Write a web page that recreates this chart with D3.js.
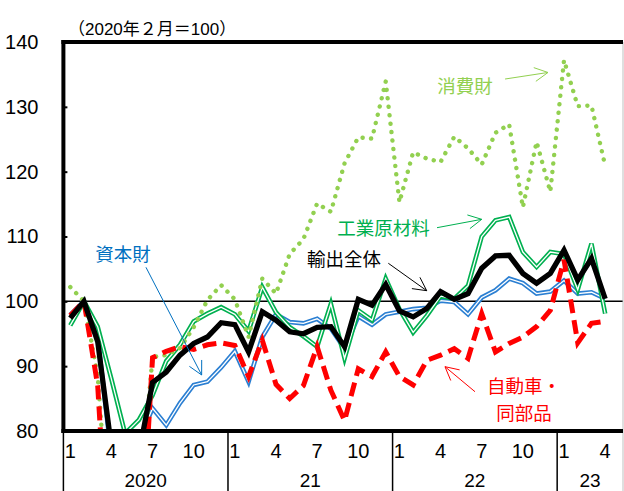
<!DOCTYPE html>
<html>
<head>
<meta charset="utf-8">
<script src="https://cdn.jsdelivr.net/npm/d3@7"></script>
<style>
  html, body { margin: 0; padding: 0; background: #fff; }
  svg { display: block; }
</style>
</head>
<body>
<svg id="chart" width="624" height="491"></svg>
<script>
// Real exports by goods type, monthly, Jan 2020 – Apr 2023 (Feb 2020 = 100)
const exportsTotal = [
  97.4, 100.0, 93.8, 77.5, 73.5, 76.5, 87.5, 89.1, 91.7, 93.5, 94.5, 96.7,
  96.4, 92.2, 98.4, 97.1, 95.3, 95.0, 96.0, 96.1, 93.0, 100.3, 99.4, 102.6,
  98.5, 97.6, 98.9, 101.5, 100.3, 101.2, 105.1, 107.0, 107.1, 104.3, 102.8, 104.3,
  107.9, 103.3, 106.6, 100.4
];
const capitalGoods = [
  97.9, 100.0, 94.5, 76.0, 71.0, 78.5, 83.5, 80.9, 84.3, 87.1, 87.6, 89.8,
  92.3, 87.6, 94.5, 98.0, 96.8, 96.6, 97.3, 95.8, 92.7, 97.7, 96.4, 98.0,
  98.4, 98.8, 99.0, 100.1, 99.9, 98.0, 100.6, 101.7, 103.5, 102.8, 101.2, 101.5,
  103.2, 101.2, 101.4, 100.4
];
const industrialSupplies = [
  96.3, 100.0, 96.1, 88.0, 79.6, 81.7, 85.5, 90.8, 93.3, 96.9, 98.1, 99.1,
  98.0, 95.4, 102.2, 98.3, 96.0, 94.6, 93.0, 99.6, 91.2, 98.6, 97.1, 103.5,
  98.8, 95.2, 97.8, 100.8, 100.4, 102.4, 110.0, 112.5, 113.0, 107.6, 105.3, 107.6,
  107.3, 101.8, 108.9, 98.1
];
const autosAndParts = [
  97.8, 100.0, 87.0, 52.0, 45.0, 55.0, 91.3, 92.3, 93.0, 92.6, 93.3, 93.6,
  93.2, 88.4, 94.0, 87.2, 85.0, 87.0, 93.0, 86.3, 81.6, 89.6, 88.4, 92.2,
  88.4, 87.1, 90.9, 91.7, 92.7, 91.2, 98.1, 92.2, 93.5, 94.5, 96.1, 98.6,
  106.4, 93.6, 96.6, 96.9
];
const consumerGoods = [
  102.2, 100.0, 88.5, 60.0, 50.0, 68.0, 91.4, 91.7, 92.8, 96.0, 100.2, 102.5,
  100.3, 94.5, 103.5, 101.2, 107.3, 109.6, 115.1, 113.8, 121.3, 125.3, 125.1, 133.9,
  115.3, 123.0, 122.0, 121.5, 125.4, 123.6, 121.1, 126.0, 127.3, 114.5, 124.6, 116.9,
  137.2, 130.1, 130.2, 120.9
];

const yTicks = [80, 90, 100, 110, 120, 130, 140];
const monthTickIndex = [0, 3, 6, 9, 12, 15, 18, 21, 24, 27, 30, 33, 36, 39];
const monthTickLabels = ["1", "4", "7", "10", "1", "4", "7", "10", "1", "4", "7", "10", "1", "4"];
const yearLabels = ["2020", "21", "22", "23"];
const yearFirstMonth = [0, 12, 24, 36];

const titleText = "（2020年２月＝100）";

(function draw() {
  const svg = d3.select("#chart");
  const plotLeft = 63.4, plotRight = 623, plotTop = 42, plotBottom = 431;
  const xMax = 40.3;

  const x = d3.scaleLinear().domain([-0.5, xMax]).range([plotLeft, plotRight]);
  const y = d3.scaleLinear().domain([80, 140]).range([plotBottom, plotTop]);

  const numFont = "'Liberation Sans Narrow', 'Liberation Sans', Arial, sans-serif";
  const jpFont = "'Noto Sans CJK JP', 'Noto Sans CJK SC', sans-serif";

  svg.append("defs").append("clipPath").attr("id", "plotClip")
    .append("rect")
    .attr("x", plotLeft).attr("y", plotTop)
    .attr("width", plotRight - plotLeft).attr("height", plotBottom - plotTop);

  // title
  svg.append("text")
    .attr("x", 68).attr("y", 35)
    .attr("font-family", "'Liberation Sans', Arial, " + jpFont)
    .attr("font-size", 17)
    .attr("fill", "#000")
    .text(titleText);

  // y axis labels and inward ticks
  const yAxis = d3.axisLeft(y)
    .tickValues(yTicks)
    .tickFormat(d3.format("d"))
    .tickSizeInner(-4)
    .tickSizeOuter(0)
    .tickPadding(25);
  const yG = svg.append("g").attr("transform", `translate(${plotLeft},0)`).call(yAxis);
  yG.select(".domain").remove();
  yG.selectAll(".tick line").attr("stroke", "#000").attr("stroke-width", 2);
  yG.selectAll(".tick text")
    .attr("font-family", numFont)
    .attr("font-size", 20)
    .attr("fill", "#000");

  // 100 reference line
  svg.append("line")
    .attr("x1", plotLeft).attr("x2", plotRight)
    .attr("y1", y(100)).attr("y2", y(100))
    .attr("stroke", "#000").attr("stroke-width", 1.5);

  // series
  const line = d3.line()
    .x((d, i) => x(i))
    .y(d => y(d));

  const plot = svg.append("g").attr("clip-path", "url(#plotClip)");

  function doubleLine(data, color) {
    plot.append("path").datum(data)
      .attr("d", line).attr("fill", "none")
      .attr("stroke", color).attr("stroke-width", 4.6);
    plot.append("path").datum(data)
      .attr("d", line).attr("fill", "none")
      .attr("stroke", "#ffffff").attr("stroke-width", 1.3);
  }

  doubleLine(capitalGoods, "#2b7fd2");
  doubleLine(industrialSupplies, "#00b050");

  plot.append("path").datum(consumerGoods)
    .attr("d", line).attr("fill", "none")
    .attr("stroke", "#92d050").attr("stroke-width", 4.4)
    .attr("stroke-linecap", "round")
    .attr("stroke-dasharray", "0.1,8.4");

  plot.append("path").datum(autosAndParts)
    .attr("d", line).attr("fill", "none")
    .attr("stroke", "#ff0000").attr("stroke-width", 5)
    .attr("stroke-dasharray", "14,7");

  plot.append("path").datum(exportsTotal)
    .attr("d", line).attr("fill", "none")
    .attr("stroke", "#000").attr("stroke-width", 5.3);

  // frame
  svg.append("line").attr("x1", plotRight).attr("x2", plotRight).attr("y1", plotTop).attr("y2", 491)
    .attr("stroke", "#bfbfbf").attr("stroke-width", 1);
  svg.append("line").attr("x1", plotLeft - 2).attr("x2", plotRight).attr("y1", plotTop).attr("y2", plotTop)
    .attr("stroke", "#000").attr("stroke-width", 4);
  svg.append("line").attr("x1", plotLeft - 2).attr("x2", plotRight).attr("y1", plotBottom).attr("y2", plotBottom)
    .attr("stroke", "#000").attr("stroke-width", 4);
  svg.append("line").attr("x1", plotLeft).attr("x2", plotLeft).attr("y1", plotTop - 2).attr("y2", plotBottom + 2)
    .attr("stroke", "#000").attr("stroke-width", 4);

  // category axis: months and years
  svg.append("g").selectAll("text")
    .data(monthTickIndex)
    .join("text")
    .attr("x", d => x(d))
    .attr("y", 451)
    .attr("text-anchor", "middle")
    .attr("dominant-baseline", "central")
    .attr("font-family", numFont)
    .attr("font-size", 20)
    .attr("fill", "#000")
    .text((d, i) => monthTickLabels[i]);

  const yearStarts = yearFirstMonth.map(m => m - 0.5);
  const yearEnds = yearStarts.slice(1).concat([xMax]);

  svg.append("g").selectAll("line")
    .data(yearStarts)
    .join("line")
    .attr("x1", d => x(d)).attr("x2", d => x(d))
    .attr("y1", plotBottom).attr("y2", 491)
    .attr("stroke", "#000").attr("stroke-width", 1.5);

  svg.append("g").selectAll("text")
    .data(yearLabels)
    .join("text")
    .attr("x", (d, i) => (x(yearStarts[i]) + x(yearEnds[i])) / 2)
    .attr("y", 487)
    .attr("text-anchor", "middle")
    .attr("font-family", numFont)
    .attr("font-size", 19)
    .attr("fill", "#000")
    .text(d => d);

  // series labels with arrows (month-index / index-value units)
  const labels = [
    { lines: ["消費財"], color: "#92d050", at: [28.78, 133.37], from: [31.70, 134.29], to: [34.83, 135.30] },
    { lines: ["工業原材料"], color: "#00b050", at: [22.84, 111.47], from: [26.74, 111.36], to: [30.00, 112.65] },
    { lines: ["輸出全体"], color: "#000000", at: [19.96, 106.68], from: [23.19, 105.87], to: [25.99, 101.64] },
    { lines: ["資本財"], color: "#0070c0", at: [3.85, 107.45], from: [5.52, 105.25], to: [9.58, 88.64] },
    { lines: ["自動車・", "同部品"], color: "#ff0000", at: [33.08, 85.0], from: [29.51, 86.06], to: [27.32, 89.92] }
  ];

  const ann = svg.append("g");
  labels.forEach(l => {
    const cx = x(l.at[0]), cy = y(l.at[1]);
    const lh = 27;
    l.lines.forEach((t, k) => {
      ann.append("text")
        .attr("x", cx)
        .attr("y", cy + (k - (l.lines.length - 1) / 2) * lh)
        .attr("text-anchor", "middle")
        .attr("dominant-baseline", "central")
        .attr("font-family", jpFont)
        .attr("font-size", 18.5)
        .attr("fill", l.color)
        .text(t);
    });
    const x1 = x(l.from[0]), y1 = y(l.from[1]);
    const x2 = x(l.to[0]), y2 = y(l.to[1]);
    const ang = Math.atan2(y2 - y1, x2 - x1);
    const headLen = 15, spread = 0.48;
    const hx1 = x2 - headLen * Math.cos(ang - spread), hy1 = y2 - headLen * Math.sin(ang - spread);
    const hx2 = x2 - headLen * Math.cos(ang + spread), hy2 = y2 - headLen * Math.sin(ang + spread);
    ann.append("path")
      .attr("d", `M${x1},${y1}L${x2},${y2}M${hx1},${hy1}L${x2},${y2}L${hx2},${hy2}`)
      .attr("fill", "none")
      .attr("stroke", l.color)
      .attr("stroke-width", 1);
  });
})();
</script>
</body>
</html>
